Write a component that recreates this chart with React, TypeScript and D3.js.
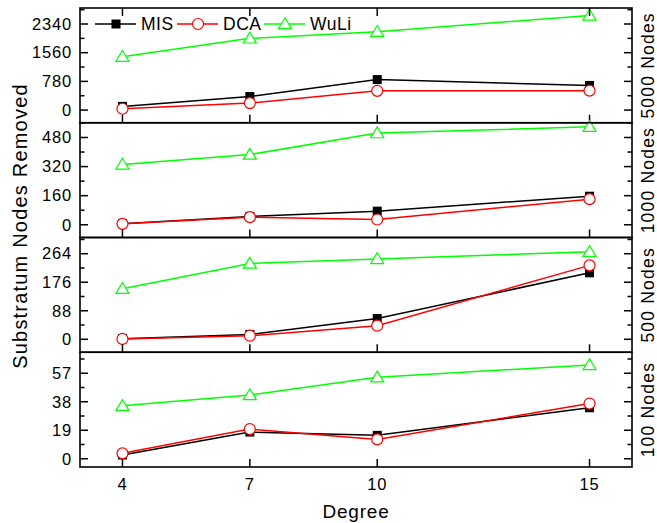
import React from "react";
import * as d3 from "d3";

const degrees = [4, 7, 10, 15];
const xTicks = [4, 7, 10, 15];
const seriesNames = ["MIS", "DCA", "WuLi"];
const seriesColors = ["#000000", "#ff0000", "#00ff00"];

const panelLabels = ["5000 Nodes", "1000 Nodes", "500 Nodes", "100 Nodes"];
const panelDomains: [number, number][] = [
  [-345, 2775],
  [-70, 561],
  [-40, 314],
  [-5.5, 71],
];
const panelTicks = [
  [0, 780, 1560, 2340],
  [0, 160, 320, 480],
  [0, 88, 176, 264],
  [0, 19, 38, 57],
];
// MIS, DCA, WuLi per panel
const mis5000 = [100, 368, 829, 670];
const dca5000 = [35, 190, 523, 528];
const wuli5000 = [1452, 1950, 2129, 2573];
const mis1000 = [6, 46, 75, 157];
const dca1000 = [5, 42, 29, 141];
const wuli1000 = [332, 386, 504, 539];
const mis500 = [2, 15, 64, 205];
const dca500 = [1, 11, 42, 228];
const wuli500 = [156, 234, 248, 270];
const mis100 = [2.5, 17.8, 15.6, 34];
const dca100 = [3.6, 19.8, 12.9, 36.8];
const wuli100 = [35.3, 42.5, 54.3, 62.5];

const panelData = [
  [mis5000, dca5000, wuli5000],
  [mis1000, dca1000, wuli1000],
  [mis500, dca500, wuli500],
  [mis100, dca100, wuli100],
];

const W = 657;
const H = 523;
const left = 80;
const right = 632;
const top = 8;
const bottom = 467;
const font = "Arial, 'Liberation Sans', sans-serif";

function Marker({ kind, x, y, color }: { kind: number; x: number; y: number; color: string }) {
  if (kind === 0) {
    return <rect x={x - 4.5} y={y - 4.5} width={9} height={9} fill={color} />;
  }
  if (kind === 1) {
    return <circle cx={x} cy={y} r={5.5} fill="#fff" stroke={color} strokeWidth={1.2} />;
  }
  const s = 6.2;
  return (
    <path
      d={`M${x},${y - s} L${x + s * 1.05},${y + s * 0.75} L${x - s * 1.05},${y + s * 0.75} Z`}
      fill="#fff"
      stroke={color}
      strokeWidth={1.2}
    />
  );
}

export default function App() {
  const x = d3.scaleLinear().domain([3, 16]).range([left, right]);
  const ph = (bottom - top) / 4;

  return (
    <svg width={W} height={H} style={{ display: "block", position: "absolute", left: 0, top: 0 }}>
      <rect width={W} height={H} fill="#fff" />
      {panelData.map((series, pi) => {
        const y0 = top + pi * ph;
        const y1 = y0 + ph;
        const y = d3.scaleLinear().domain(panelDomains[pi]).range([y1, y0]);
        const major = panelTicks[pi];
        const step = major[1] - major[0];
        const minor: number[] = [];
        for (let v = major[0] - step / 2; v <= panelDomains[pi][1]; v += step / 2) {
          if (v >= panelDomains[pi][0] && !major.some((m) => Math.abs(m - v) < 1e-9)) minor.push(v);
        }
        const line = d3
          .line<number>()
          .x((_, i) => x(degrees[i]))
          .y((d) => y(d));
        return (
          <g key={pi}>
            {series.map((vals, si) => (
              <path key={si} d={line(vals) || ""} fill="none" stroke={seriesColors[si]} strokeWidth={1.5} />
            ))}
            {series.map((vals, si) =>
              vals.map((v, i) => (
                <Marker key={si + "-" + i} kind={si} x={x(degrees[i])} y={y(v)} color={seriesColors[si]} />
              ))
            )}
            {major.map((t) => (
              <g key={"M" + t}>
                <line x1={left} x2={left + 8} y1={y(t)} y2={y(t)} stroke="#000" strokeWidth={1.5} />
                <line x1={right} x2={right - 8} y1={y(t)} y2={y(t)} stroke="#000" strokeWidth={1.5} />
                <text
                  x={left - 8}
                  y={y(t)}
                  dy="0.35em"
                  textAnchor="end"
                  fontFamily={font}
                  fontSize={16.5}
                  letterSpacing={0.8}
                  fill="#000"
                >
                  {t}
                </text>
              </g>
            ))}
            {minor.map((t) => (
              <g key={"m" + t}>
                <line x1={left} x2={left + 4.5} y1={y(t)} y2={y(t)} stroke="#000" strokeWidth={1.5} />
                <line x1={right} x2={right - 4.5} y1={y(t)} y2={y(t)} stroke="#000" strokeWidth={1.5} />
              </g>
            ))}
            {xTicks.map((t) => (
              <line key={"b" + t} x1={x(t)} x2={x(t)} y1={y1} y2={y1 - 8} stroke="#000" strokeWidth={1.5} />
            ))}
            {pi === 0 &&
              xTicks.map((t) => (
                <line key={"t" + t} x1={x(t)} x2={x(t)} y1={y0} y2={y0 + 8} stroke="#000" strokeWidth={1.5} />
              ))}
            <rect x={left} y={y0} width={right - left} height={ph} fill="none" stroke="#000" strokeWidth={1.6} />
            <text
              transform={`translate(${right + 22},${(y0 + y1) / 2}) rotate(-90)`}
              textAnchor="middle"
              fontFamily={font}
              fontSize={17.5}
              letterSpacing={1.2}
              fill="#000"
            >
              {panelLabels[pi]}
            </text>
          </g>
        );
      })}
      {xTicks.map((t) => (
        <text
          key={"xl" + t}
          x={x(t)}
          y={490}
          textAnchor="middle"
          fontFamily={font}
          fontSize={16.5}
          letterSpacing={0.8}
          fill="#000"
        >
          {t}
        </text>
      ))}
      <text
        x={(left + right) / 2}
        y={518}
        textAnchor="middle"
        fontFamily={font}
        fontSize={19}
        letterSpacing={0.8}
        fill="#000"
      >
        Degree
      </text>
      <text
        transform={`translate(27,${226}) rotate(-90)`}
        textAnchor="middle"
        fontFamily={font}
        fontSize={20}
        letterSpacing={1.2}
        fill="#000"
      >
        Substratum Nodes Removed
      </text>
      {/* legend */}
      {seriesNames.map((name, si) => {
        const lx = [95, 177, 264][si];
        const ly = 24;
        return (
          <g key={name}>
            <line x1={lx} x2={lx + 41} y1={ly} y2={ly} stroke={seriesColors[si]} strokeWidth={1.5} />
            <Marker kind={si} x={lx + 21} y={ly} color={seriesColors[si]} />
            <text
              x={lx + 46}
              y={ly}
              dy="0.36em"
              fontFamily={font}
              fontSize={17.5}
              letterSpacing={0.5}
              fill="#000"
            >
              {name}
            </text>
          </g>
        );
      })}
    </svg>
  );
}
